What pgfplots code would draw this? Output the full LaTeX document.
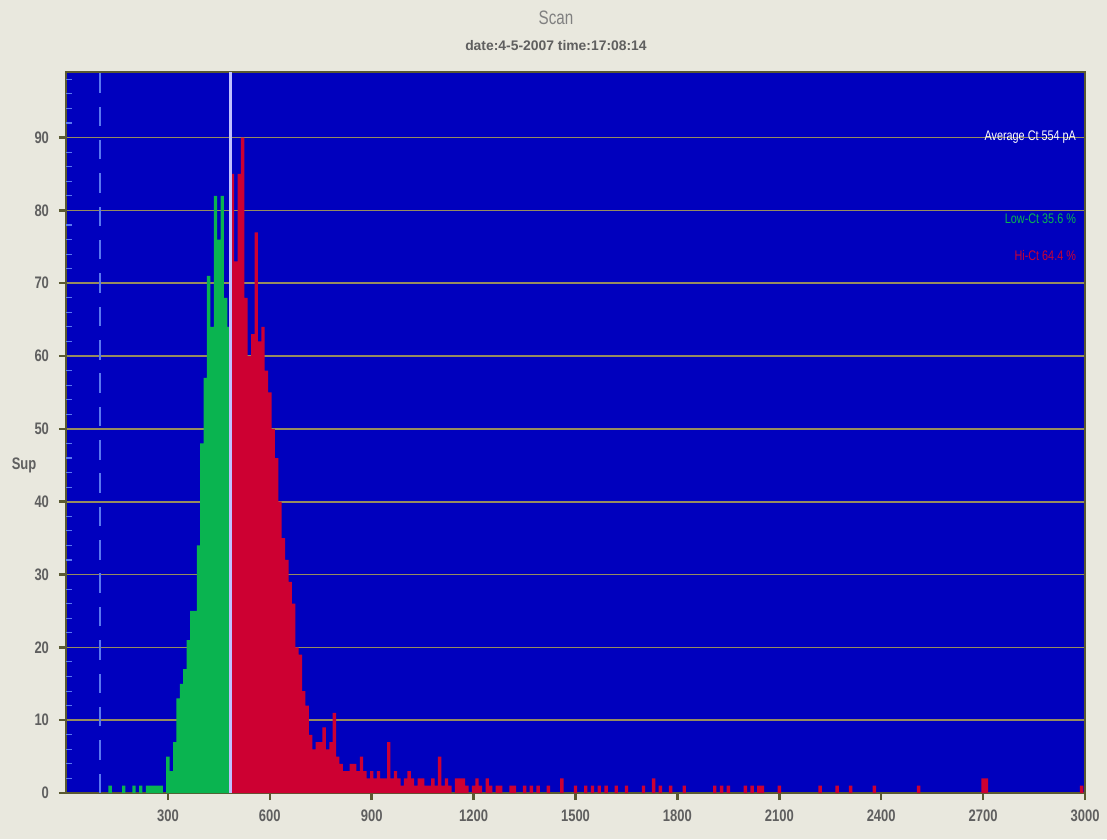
\documentclass[border=0pt]{standalone}
\usepackage{fontspec}
\setmainfont{Liberation Sans}
\newfontfamily\narrow[FakeStretch=0.78]{Liberation Sans}
\usepackage{pgfplots}
\usepackage{pgfplotstable}
\pgfplotsset{compat=1.18}

\definecolor{figbg}{RGB}{233,232,222}
\definecolor{plotbg}{RGB}{0,0,190}
\definecolor{gridc}{RGB}{150,140,95}
\definecolor{framec}{RGB}{90,90,50}
\definecolor{lowgreen}{RGB}{10,180,80}
\definecolor{hired}{RGB}{205,0,50}
\definecolor{labgray}{RGB}{95,95,95}
\definecolor{minorc}{RGB}{90,120,240}

% counts per 10 pA bin (bin centre, count)
\pgfplotstableread{
x y
130 1
170 1
200 1
220 1
240 1
250 1
260 1
270 1
280 1
300 5
310 3
320 7
330 13
340 15
350 17
360 21
370 25
380 25
390 34
400 48
410 57
420 71
430 64
440 82
450 76
460 82
470 68
480 64
}\lowct

\pgfplotstableread{
x y
490 85
500 73
510 85
520 90
530 68
540 60
550 63
560 77
570 62
580 64
590 58
600 55
610 50
620 46
630 40
640 35
650 32
660 29
670 26
680 20
690 19
700 14
710 12
720 8
730 6
740 7
750 7
760 9
770 6
780 7
790 11
800 5
810 4
820 3
830 3
840 4
850 4
860 3
870 5
880 3
890 2
900 3
910 2
920 3
930 2
940 2
950 7
960 2
970 3
980 2
990 1
1000 2
1010 3
1020 2
1030 1
1040 2
1050 2
1060 1
1070 1
1080 2
1090 1
1100 5
1110 1
1120 2
1130 1
1150 2
1160 2
1170 2
1180 1
1200 1
1210 2
1220 1
1240 2
1250 1
1270 1
1280 1
1310 1
1320 1
1350 1
1370 1
1390 1
1420 1
1460 2
1500 1
1530 1
1550 1
1570 1
1590 1
1620 1
1650 1
1700 1
1730 2
1750 1
1780 1
1820 1
1910 1
1930 1
1950 1
2000 1
2020 1
2040 1
2050 1
2100 1
2220 1
2270 1
2310 1
2380 1
2510 1
2700 2
2710 2
2990 1
}\hict

\begin{document}
\begin{tikzpicture}
\fill[figbg, use as bounding box] (-0.835cm,-0.582cm) rectangle (13.166cm,10.030cm);
\begin{axis}[
  name=ax, at={(0,0)}, anchor=south west,
  scale only axis,
  width=12.888cm, height=9.119cm,
  xmin=0, xmax=3000, ymin=0, ymax=99,
  axis background/.style={fill=plotbg},
  axis line style={framec, line width=0.8pt},
  xtick={300,600,...,3000},
  ytick={0,10,...,90},
  xtick pos=bottom, ytick pos=left,
  tick align=outside,
  major tick length=2.6pt,
  tick style={framec, line width=0.9pt},
  ymajorgrids,
  grid style={gridc, line width=0.6pt},
  ticklabel style={font=\narrow\bfseries\fontsize{6}{6}\selectfont, text=labgray},
  /pgf/number format/assume math mode=true,
  /pgf/number format/set thousands separator={},
  extra y ticks={2,4,6,8,12,14,16,18,22,24,26,28,32,34,36,38,42,44,46,48,52,54,56,58,62,64,66,68,72,74,76,78,82,84,86,88,92,94,96,98},
  extra y tick labels={},
  extra y tick style={tick align=inside, major tick length=2pt,
    tick style={minorc, line width=0.4pt}, ymajorgrids=false},
]
  \addplot[ybar, bar width=10, bar shift=0pt, fill=lowgreen, draw=none] table {\lowct};
  \addplot[ybar, bar width=10, bar shift=0pt, fill=hired, draw=none] table {\hict};

  % threshold and lower limit
  \draw[white!75!blue, line width=0.8pt] (axis cs:484,0) -- (axis cs:484,99);
  \draw[minorc, line width=0.6pt, dash pattern=on 7pt off 5pt] (axis cs:100,0) -- (axis cs:100,99);

  \node[anchor=east, inner sep=0pt, text=white, font=\narrow\fontsize{5}{5}\selectfont]
    at (axis cs:2975,90) {Average Ct 554 pA};
  \node[anchor=east, inner sep=0pt, text=lowgreen, font=\narrow\fontsize{5}{5}\selectfont]
    at (axis cs:2975,78.9) {Low-Ct 35.6 \%};
  \node[anchor=east, inner sep=0pt, text=hired, font=\narrow\fontsize{5}{5}\selectfont]
    at (axis cs:2975,73.8) {Hi-Ct 64.4 \%};
\end{axis}

\node[text=gray, font=\narrow\fontsize{7}{7}\selectfont] at (6.197cm,9.802cm) {Scan};
\node[text=labgray, font=\bfseries\fontsize{5}{5}\selectfont] at (6.197cm,9.46cm) {date:4-5-2007 time:17:08:14};
\node[text=labgray, font=\narrow\bfseries\fontsize{6}{6}\selectfont] at (-0.531cm,4.148cm) {Sup};
\end{tikzpicture}
\end{document}
